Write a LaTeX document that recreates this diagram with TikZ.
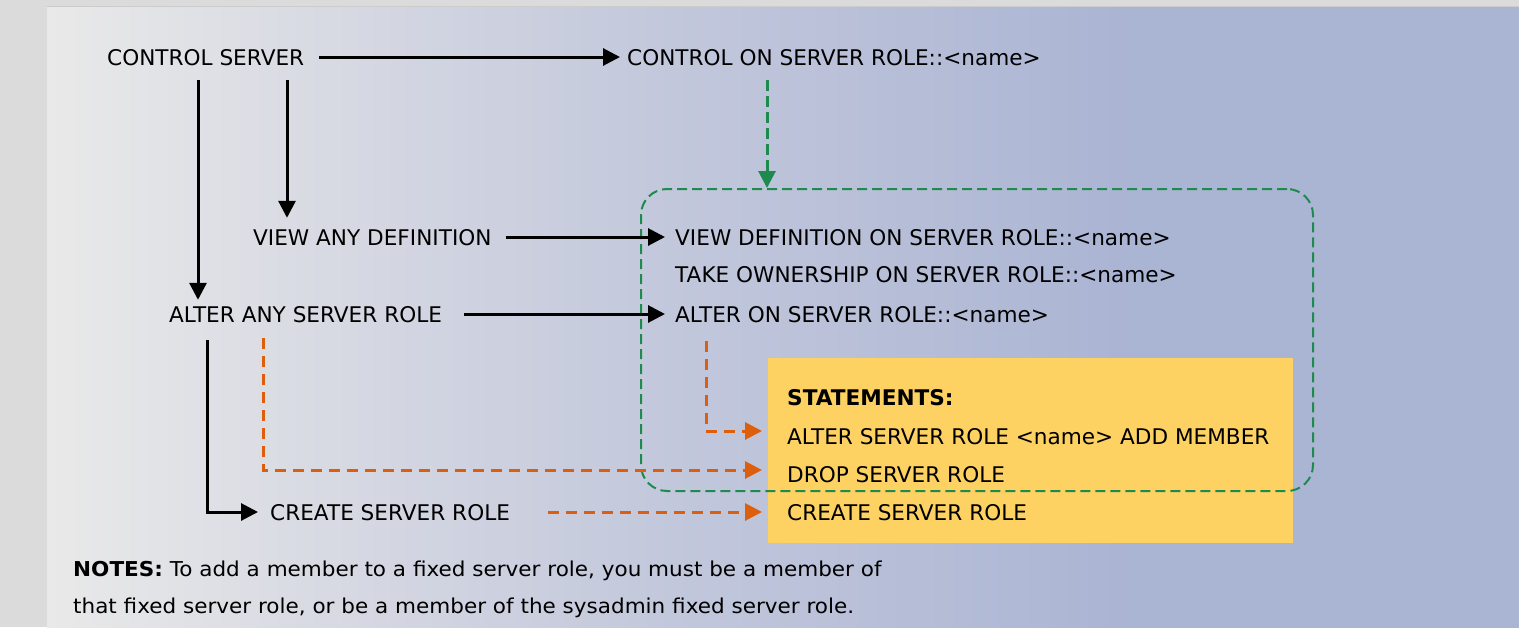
\documentclass[tikz,border=0pt]{standalone}
\usepackage{fontspec}
\setmainfont{DejaVu Sans}
\newfontfamily\notesfont[FakeStretch=1.05]{DejaVu Sans}
\usetikzlibrary{arrows.meta}

\definecolor{frame}{HTML}{DBDBDB}
\definecolor{frameline}{HTML}{CCCCCC}
\definecolor{bgL}{HTML}{E9E9E9}
\definecolor{bgM}{HTML}{C4C9DC}
\definecolor{bgR}{HTML}{AAB4D3}
\definecolor{grn}{HTML}{1F8A4E}
\definecolor{org}{HTML}{DD5F0E}
\definecolor{yel}{HTML}{FDD262}

\pgfdeclarehorizontalshading{panelshade}{100bp}{color(0bp)=(bgL); color(25bp)=(bgL); color(45bp)=(bgM); color(62bp)=(bgR); color(100bp)=(bgR)}

\tikzset{
  lbl/.style={anchor=base west, inner sep=0pt, text height=16pt, text depth=0pt,
              font=\fontsize{21.6}{26}\selectfont},
  notes/.style={anchor=base west, inner sep=0pt, text height=15pt, text depth=0pt,
              font=\notesfont\fontsize{20.5}{24}\selectfont},
  tip/.style={-{Triangle[length=17pt,width=17pt]}},
  arr/.style={draw=black, line width=3pt, tip},
  oarr/.style={draw=org, line width=3pt, dash pattern=on 11pt off 7pt, tip},
  garr/.style={draw=grn, line width=3pt, dash pattern=on 11pt off 5pt, tip},
  grpbox/.style={draw=grn, line width=2pt, dash pattern=on 10pt off 5pt,
              rounded corners=26pt, inner sep=0pt, anchor=north west},
  stbox/.style={fill=yel, inner sep=0pt, anchor=north west},
}

\begin{document}
\begin{tikzpicture}[x=1pt,y=-1pt]
  % frame and shaded panel
  \useasboundingbox (0,0) rectangle (1519,627);
  \fill[frame] (0,0) rectangle (1519,627);
  \shade[shading=panelshade] (47,7) rectangle (1519,627);
  \draw[frameline, line width=1pt] (47,6.5) -- (1519,6.5);

  % statements box and permission group
  \node[stbox, minimum width=525pt, minimum height=185pt] (stmts) at (768,358) {};
  \node[grpbox, minimum width=672pt, minimum height=302pt] (grp) at (640,188) {};

  % server-level permissions
  \node[lbl] (ctrl)       at (107,65)  {CONTROL SERVER};
  \node[lbl] (viewany)    at (253,245) {VIEW ANY DEFINITION};
  \node[lbl] (alterany)   at (169,322) {ALTER ANY SERVER ROLE};
  \node[lbl] (createrole) at (270,520) {CREATE SERVER ROLE};

  % securable-level permissions
  \node[lbl] (ctrlon)  at (627,65)  {CONTROL ON SERVER ROLE::<name>};
  \node[lbl] (viewdef) at (675,245) {VIEW DEFINITION ON SERVER ROLE::<name>};
  \node[lbl] (takeown) at (675,282) {TAKE OWNERSHIP ON SERVER ROLE::<name>};
  \node[lbl] (alteron) at (675,322) {ALTER ON SERVER ROLE::<name>};

  % statements
  \node[lbl, font=\fontsize{21.6}{26}\selectfont\bfseries] (sttitle) at (787,405) {STATEMENTS:};
  \node[lbl] (st1) at (787,444) {ALTER SERVER ROLE <name> ADD MEMBER};
  \node[lbl] (st2) at (787,482) {DROP SERVER ROLE};
  \node[lbl] (st3) at (787,520) {CREATE SERVER ROLE};

  % notes
  \node[notes] (note1) at (73,576) {\textbf{NOTES:} To add a member to a fixed server role, you must be a member of};
  \node[notes] (note2) at (73,613) {that fixed server role, or be a member of the sysadmin fixed server role.};

  % implication arrows
  \draw[arr, shorten <=15pt, shorten >=7pt] (ctrl.east) -- (ctrlon.west);
  \draw[arr, shorten <=15pt, shorten >=11pt] (ctrl.south -| 287,0) -- (viewany.north -| 287,0);
  \draw[arr, shorten <=15pt, shorten >=6pt] (ctrl.south -| 198,0) -- (alterany.north -| 198,0);
  \draw[arr, shorten <=14pt, shorten >=10pt] (viewany.east) -- (viewdef.west);
  \draw[arr, shorten <=22pt, shorten >=10pt] (alterany.east) -- (alteron.west);
  \draw[arr, shorten <=18pt, shorten >=12pt] (alterany.south -| 207,0) |- (createrole.west);
  \draw[garr, shorten <=15pt] (ctrlon.south -| 767,0) -- (grp.north -| 767,0);

  % permissions required by statements
  \draw[oarr, shorten <=19pt, shorten >=25pt] (alteron.south -| 706,0) |- ([yshift=5pt]st1.west);
  \draw[oarr, shorten <=16pt, shorten >=25pt] (alterany.south -| 263,0) |- ([yshift=4pt]st2.west);
  \draw[oarr, shorten >=25pt] (createrole.east -| 548,0) -- (st3.west);
\end{tikzpicture}
\end{document}
